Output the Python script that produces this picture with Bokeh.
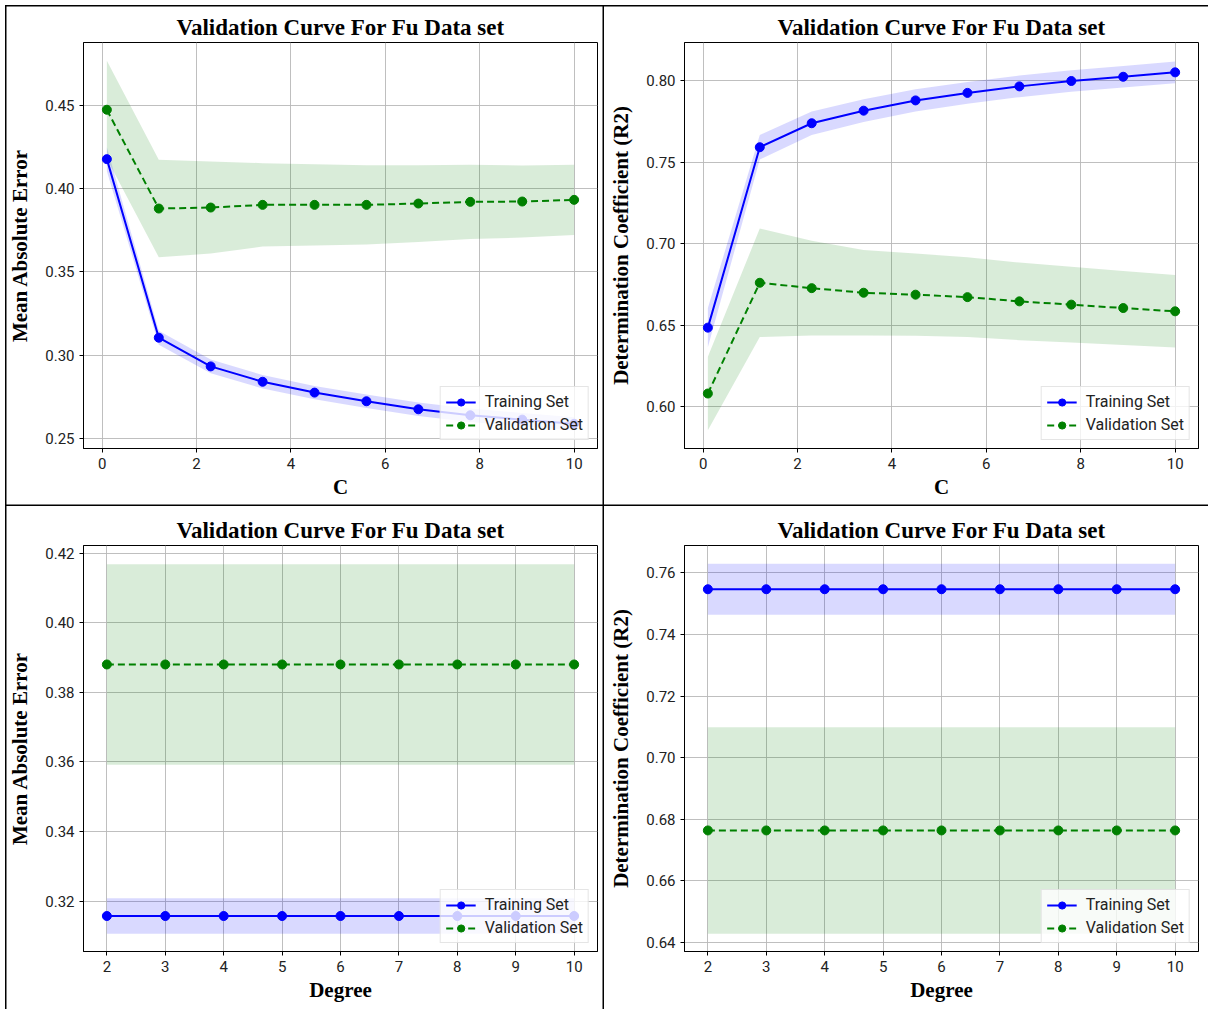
from bokeh.plotting import figure
from bokeh.layouts import gridplot
from bokeh.models import (FixedTicker, PrintfTickFormatter, Legend, LegendItem, Range1d)
from bokeh.embed import file_html
from bokeh.resources import INLINE

# ---------------- data ----------------
c_values = [0.1, 1.2, 2.3, 3.4, 4.5, 5.6, 6.7, 7.8, 8.9, 10.0]
mae_train_c = [0.4176, 0.3106, 0.2934, 0.2842, 0.2777, 0.2725, 0.2677, 0.2641, 0.2615, 0.2590]
mae_train_c_std = [0.0072, 0.0042, 0.0041, 0.0040, 0.0040, 0.0040, 0.0040, 0.0040, 0.0040, 0.0040]
mae_val_c = [0.4472, 0.3880, 0.3886, 0.3902, 0.3902, 0.3902, 0.3910, 0.3920, 0.3922, 0.3932]
mae_val_c_std = [0.0293, 0.0292, 0.0276, 0.0250, 0.0243, 0.0237, 0.0230, 0.0222, 0.0216, 0.0210]

r2_train_c = [0.6486, 0.7592, 0.7739, 0.7816, 0.7879, 0.7925, 0.7965, 0.7998, 0.8024, 0.8051]
r2_train_c_std = [0.0120, 0.0075, 0.0072, 0.0070, 0.0068, 0.0067, 0.0066, 0.0066, 0.0066, 0.0067]
r2_val_c = [0.6082, 0.6761, 0.6728, 0.6700, 0.6688, 0.6673, 0.6647, 0.6627, 0.6606, 0.6586]
r2_val_c_std = [0.0225, 0.0333, 0.0290, 0.0262, 0.0252, 0.0245, 0.0238, 0.0232, 0.0227, 0.0222]

degree_values = [2, 3, 4, 5, 6, 7, 8, 9, 10]
mae_train_deg = [0.3157, 0.3157, 0.3157, 0.3157, 0.3157, 0.3157, 0.3157, 0.3157, 0.3157]
mae_train_deg_std = [0.0051, 0.0051, 0.0051, 0.0051, 0.0051, 0.0051, 0.0051, 0.0051, 0.0051]
mae_val_deg = [0.3880, 0.3880, 0.3880, 0.3880, 0.3880, 0.3880, 0.3880, 0.3880, 0.3880]
mae_val_deg_std = [0.0288, 0.0288, 0.0288, 0.0288, 0.0288, 0.0288, 0.0288, 0.0288, 0.0288]

r2_train_deg = [0.7547, 0.7547, 0.7547, 0.7547, 0.7547, 0.7547, 0.7547, 0.7547, 0.7547]
r2_train_deg_std = [0.0083, 0.0083, 0.0083, 0.0083, 0.0083, 0.0083, 0.0083, 0.0083, 0.0083]
r2_val_deg = [0.6764, 0.6764, 0.6764, 0.6764, 0.6764, 0.6764, 0.6764, 0.6764, 0.6764]
r2_val_deg_std = [0.0335, 0.0335, 0.0335, 0.0335, 0.0335, 0.0335, 0.0335, 0.0335, 0.0335]

c_ticks = [0, 2, 4, 6, 8, 10]
degree_ticks = [2, 3, 4, 5, 6, 7, 8, 9, 10]
mae_c_ticks = [0.25, 0.30, 0.35, 0.40, 0.45]
r2_c_ticks = [0.60, 0.65, 0.70, 0.75, 0.80]
mae_deg_ticks = [0.32, 0.34, 0.36, 0.38, 0.40, 0.42]
r2_deg_ticks = [0.64, 0.66, 0.68, 0.70, 0.72, 0.74, 0.76]

TITLE = "Validation Curve For Fu Data set"
SERIF = "Liberation Serif"
SANS = "Roboto"


def panel(x, tr, tr_sd, va, va_sd, xlabel, ylabel, xr, yr, xticks, yticks,
          w, h, mb, shadow):
    p = figure(width=w, height=h, output_backend="svg", toolbar_location=None,
               x_range=Range1d(*xr), y_range=Range1d(*yr),
               min_border_left=mb[0], min_border_right=mb[1],
               min_border_top=mb[2], min_border_bottom=mb[3])
    p.background_fill_color = "white"
    p.border_fill_color = "white"
    p.border_fill_alpha = 0
    p.outline_line_color = "black"
    p.outline_line_width = 1
    p.outline_line_alpha = 1
    if shadow:
        p.styles = {"box-shadow": shadow}

    p.title.text = TITLE
    p.title.align = "center"
    p.title.text_font = SERIF
    p.title.text_font_style = "bold"
    p.title.text_font_size = "23px"
    p.title.text_color = "black"
    p.title.standoff = 6

    p.xaxis.ticker = FixedTicker(ticks=xticks)
    p.yaxis.ticker = FixedTicker(ticks=yticks)
    p.yaxis.formatter = PrintfTickFormatter(format="%.2f")
    p.xaxis.formatter = PrintfTickFormatter(format="%d")
    p.xaxis.axis_label = xlabel
    p.yaxis.axis_label = ylabel
    for ax in (p.xaxis, p.yaxis):
        ax.axis_label_text_font = SERIF
        ax.axis_label_text_font_style = "bold"
        ax.axis_label_text_font_size = "21px"
        ax.axis_label_text_color = "black"
        ax.major_label_text_font = SANS
        ax.major_label_text_font_size = "15px"
        ax.major_label_text_color = "#222222"
        ax.minor_tick_line_color = None
        ax.major_tick_in = 0
        ax.major_tick_out = 4
        ax.major_tick_line_color = "black"
        ax.axis_line_color = "black"
        ax.major_label_standoff = 5
    p.xaxis.axis_label_standoff = 3
    p.yaxis.axis_label_standoff = 10

    p.grid.grid_line_color = "#b8b8b8"
    p.grid.grid_line_width = 1
    p.grid.grid_line_alpha = 0.9

    tr_lo = [m - s for m, s in zip(tr, tr_sd)]
    tr_hi = [m + s for m, s in zip(tr, tr_sd)]
    va_lo = [m - s for m, s in zip(va, va_sd)]
    va_hi = [m + s for m, s in zip(va, va_sd)]

    p.varea(x=x, y1=tr_lo, y2=tr_hi, fill_color="blue", fill_alpha=0.15)
    p.varea(x=x, y1=va_lo, y2=va_hi, fill_color="green", fill_alpha=0.15)

    l1 = p.line(x, tr, line_color="blue", line_width=2)
    s1 = p.scatter(x, tr, size=9, fill_color="blue", line_color="blue")
    l2 = p.line(x, va, line_color="green", line_width=2, line_dash="7 4")
    s2 = p.scatter(x, va, size=9, fill_color="green", line_color="green")

    legend = Legend(items=[LegendItem(label="Training Set", renderers=[l1, s1]),
                           LegendItem(label="Validation Set", renderers=[l2, s2])],
                    location="bottom_right")
    legend.label_text_font = SANS
    legend.label_text_font_size = "16px"
    legend.label_text_color = "#222222"
    legend.glyph_width = 30
    legend.glyph_height = 18
    legend.label_height = 18
    legend.label_standoff = 9
    legend.spacing = 4
    legend.padding = 5
    legend.margin = 8
    legend.border_line_color = "#cccccc"
    legend.border_line_width = 1
    legend.background_fill_color = "white"
    legend.background_fill_alpha = 0.8
    p.add_layout(legend)
    return p


tl_shadow = ("inset 5px 0 0 0 white, inset 0 5px 0 0 white, "
             "inset 6.5px 0 0 0 black, inset 0 6.5px 0 0 black, "
             "inset -1.5px 0 0 0 black, inset 0 -1.5px 0 0 black")
tr_shadow = ("inset 0 5px 0 0 white, inset 0 6.5px 0 0 black, "
             "inset 0 -1.5px 0 0 black")
bl_shadow = ("inset 5px 0 0 0 white, inset 6.5px 0 0 0 black, "
             "inset -1.5px 0 0 0 black")

p1 = panel(c_values, mae_train_c, mae_train_c_std, mae_val_c, mae_val_c_std,
           "C", "Mean Absolute Error", (-0.395, 10.495), (0.2442, 0.4875),
           c_ticks, mae_c_ticks, 604, 506, (83, 7, 42, 58), tl_shadow)
p2 = panel(c_values, r2_train_c, r2_train_c_std, r2_val_c, r2_val_c_std,
           "C", "Determination Coefficient (R2)", (-0.395, 10.495), (0.5745, 0.8234),
           c_ticks, r2_c_ticks, 604, 506, (80, 9, 42, 58), tr_shadow)
p3 = panel(degree_values, mae_train_deg, mae_train_deg_std, mae_val_deg, mae_val_deg_std,
           "Degree", "Mean Absolute Error", (1.6, 10.4), (0.3055, 0.4222),
           degree_ticks, mae_deg_ticks, 604, 503, (83, 7, 39, 58), bl_shadow)
p4 = panel(degree_values, r2_train_deg, r2_train_deg_std, r2_val_deg, r2_val_deg_std,
           "Degree", "Determination Coefficient (R2)", (1.6, 10.4), (0.6371, 0.7689),
           degree_ticks, r2_deg_ticks, 604, 503, (80, 10, 38, 58), None)

grid = gridplot([[p1, p2], [p3, p4]], toolbar_location=None)

open("out.html", "w").write(file_html(grid, INLINE))
